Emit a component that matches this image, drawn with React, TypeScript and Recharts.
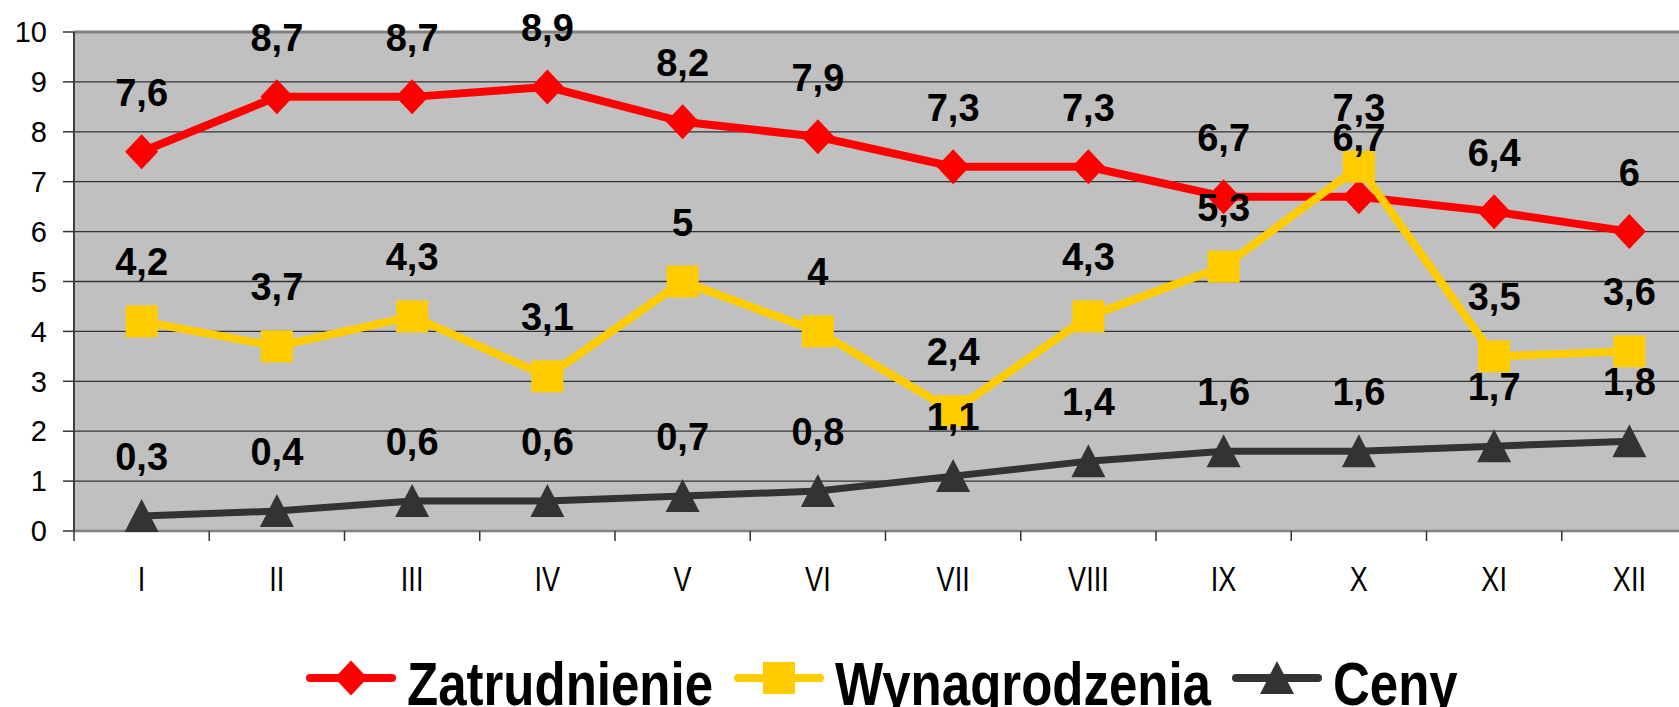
import React from 'react';
import {
  LineChart,
  Line,
  XAxis,
  YAxis,
  CartesianGrid,
  ReferenceLine,
  LabelList,
} from 'recharts';

const months = ['I', 'II', 'III', 'IV', 'V', 'VI', 'VII', 'VIII', 'IX', 'X', 'XI', 'XII'];
const zatrudnienie = [7.6, 8.7, 8.7, 8.9, 8.2, 7.9, 7.3, 7.3, 6.7, 6.7, 6.4, 6];
const wynagrodzenia = [4.2, 3.7, 4.3, 3.1, 5, 4, 2.4, 4.3, 5.3, 7.3, 3.5, 3.6];
const ceny = [0.3, 0.4, 0.6, 0.6, 0.7, 0.8, 1.1, 1.4, 1.6, 1.6, 1.7, 1.8];
const yTicks = [0, 1, 2, 3, 4, 5, 6, 7, 8, 9, 10];

const COLORS = {
  zat: '#ff0000',
  wyn: '#ffcc00',
  ceny: '#333333',
  plot: '#c0c0c0',
};

const FONT = "'Liberation Sans', Arial, sans-serif";

const chartData = months.map((m, i) => ({
  m,
  zat: zatrudnienie[i],
  wyn: wynagrodzenia[i],
  ceny: ceny[i],
}));

const fmt = (v: number) => String(v).replace('.', ',');

const Diamond = ({ cx, cy, fill }: any) => (
  <path d={`M${cx},${cy - 17.5}L${cx + 16.5},${cy}L${cx},${cy + 17.5}L${cx - 16.5},${cy}Z`} fill={fill} />
);
const Square = ({ cx, cy, fill }: any) => (
  <rect x={cx - 16} y={cy - 16} width={32} height={32} fill={fill} />
);
const Triangle = ({ cx, cy, fill }: any) => (
  <path d={`M${cx},${cy - 17}L${cx + 17},${cy + 16}L${cx - 17},${cy + 16}Z`} fill={fill} />
);

const dotOf = (Shape: any, fill: string) => (p: any) =>
  p.cx == null ? <g key={p.index} /> : <Shape key={p.index} cx={p.cx} cy={p.cy} fill={fill} />;

const ValueLabel = (p: any) => (
  <text
    x={p.x}
    y={p.y - 46}
    textAnchor="middle"
    fontFamily={FONT}
    fontWeight="bold"
    fontSize={38}
    fill="#000"
  >
    {fmt(p.value)}
  </text>
);

const MonthTick = (p: any) => {
  const { x, y, payload, index, visibleTicksCount } = p;
  const half = payload?.offset ?? 0;
  const axisY = y - 10;
  return (
    <g>
      <line x1={x - half} x2={x - half} y1={axisY} y2={axisY + 10} stroke="#333" strokeWidth={1.5} />
      {index === visibleTicksCount - 1 && (
        <line x1={x + half} x2={x + half} y1={axisY} y2={axisY + 10} stroke="#333" strokeWidth={1.5} />
      )}
      <text
        x={0}
        y={0}
        transform={`translate(${x},${axisY + 60}) scale(1,1.29)`}
        textAnchor="middle"
        fontFamily={FONT}
        fontSize={27}
        fill="#000"
      >
        {payload.value}
      </text>
    </g>
  );
};

function LegendIcon({ color, shape }: { color: string; shape: 'diamond' | 'square' | 'triangle' }) {
  return (
    <svg width={92} height={40} style={{ display: 'block', marginRight: 10 }}>
      <line x1={5} x2={87} y1={20} y2={20} stroke={color} strokeWidth={8} strokeLinecap="round" />
      {shape === 'diamond' && <Diamond cx={46} cy={20} fill={color} />}
      {shape === 'square' && <Square cx={46} cy={20} fill={color} />}
      {shape === 'triangle' && <Triangle cx={46} cy={20} fill={color} />}
    </svg>
  );
}

const legendItems = [
  { name: 'Zatrudnienie', color: COLORS.zat, shape: 'diamond' as const },
  { name: 'Wynagrodzenia', color: COLORS.wyn, shape: 'square' as const },
  { name: 'Ceny', color: COLORS.ceny, shape: 'triangle' as const },
];

export default function App() {
  return (
    <div style={{ position: 'relative', width: 1679, height: 707, overflow: 'hidden', background: '#fff' }}>
      <style>{`body{margin:0}`}</style>
      <LineChart width={1699} height={707} data={chartData} margin={{ top: 32, right: 2, bottom: 116, left: 0 }}>
        <CartesianGrid vertical={false} fill={COLORS.plot} stroke="#333" strokeWidth={1.3} />
        <XAxis
          dataKey="m"
          scale="band"
          interval={0}
          height={60}
          tickSize={10}
          tickMargin={0}
          tickLine={false}
          axisLine={{ stroke: '#808080', strokeWidth: 2.5 }}
          tick={<MonthTick />}
        />
        <YAxis
          width={74}
          domain={[0, 10]}
          ticks={yTicks}
          interval={0}
          tickSize={11}
          tickMargin={16}
          axisLine={{ stroke: '#404040', strokeWidth: 2 }}
          tickLine={{ stroke: '#333', strokeWidth: 1.5 }}
          tick={{ fontSize: 29, fill: '#000', fontFamily: FONT }}
        />
        <ReferenceLine y={10} stroke="#808080" strokeWidth={3} />
        <Line
          dataKey="zat"
          stroke={COLORS.zat}
          strokeWidth={8}
          dot={dotOf(Diamond, COLORS.zat)}
          activeDot={false}
          isAnimationActive={false}
        >
          <LabelList dataKey="zat" content={<ValueLabel />} />
        </Line>
        <Line
          dataKey="wyn"
          stroke={COLORS.wyn}
          strokeWidth={8}
          dot={dotOf(Square, COLORS.wyn)}
          activeDot={false}
          isAnimationActive={false}
        >
          <LabelList dataKey="wyn" content={<ValueLabel />} />
        </Line>
        <Line
          dataKey="ceny"
          stroke={COLORS.ceny}
          strokeWidth={7}
          dot={dotOf(Triangle, COLORS.ceny)}
          activeDot={false}
          isAnimationActive={false}
        >
          <LabelList dataKey="ceny" content={<ValueLabel />} />
        </Line>
      </LineChart>

      <div style={{ position: 'absolute', left: 305, top: 658, display: 'flex', alignItems: 'flex-start' }}>
        {legendItems.map((it) => (
          <div key={it.name} style={{ display: 'flex', alignItems: 'flex-start', marginRight: 20 }}>
            <LegendIcon color={it.color} shape={it.shape} />
            <span
              style={{
                display: 'inline-block',
                position: 'relative',
                top: 10,
                fontFamily: FONT,
                fontWeight: 'bold',
                fontSize: 51,
                lineHeight: '40px',
                transform: 'scaleY(1.2)',
                transformOrigin: '50% 37px',
                color: '#000',
                whiteSpace: 'nowrap',
              }}
            >
              {it.name}
            </span>
          </div>
        ))}
      </div>
    </div>
  );
}
